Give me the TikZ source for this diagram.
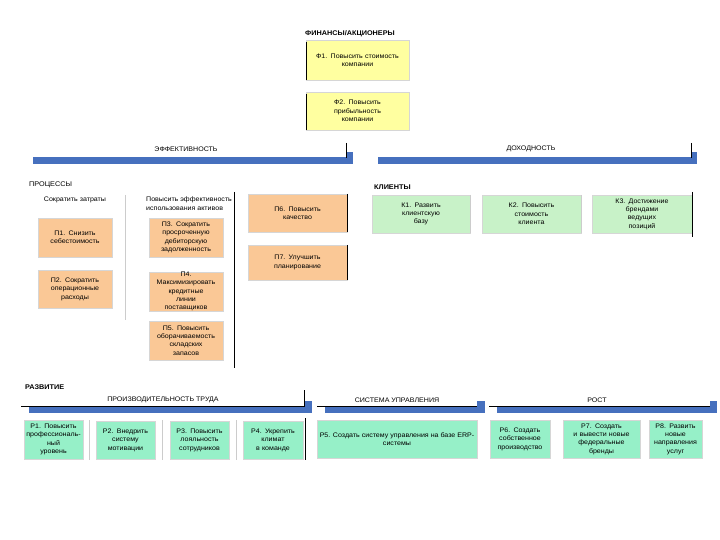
\documentclass[tikz,border=0pt]{standalone}
\usepackage{fontspec}
\setmainfont[FakeStretch=1.07]{Liberation Sans}
\definecolor{yel}{RGB}{255,255,160}
\definecolor{org}{RGB}{250,200,150}
\definecolor{kgr}{RGB}{200,242,200}
\definecolor{mnt}{RGB}{150,240,200}
\definecolor{barc}{RGB}{70,112,190}
\tikzset{
  txt/.style={font=\fontsize{6.6}{8.4}\selectfont, align=center, inner sep=0pt},
  hdr/.style={font=\fontsize{6.8}{8}\selectfont\bfseries, inner sep=0pt, anchor=west},
  bx/.style n args={3}{txt, draw=black!16, line width=0.4pt, minimum width=#1pt, minimum height=#2pt, text width=#3pt},
  fbox/.style={fill=yel},
  pbox/.style={fill=org},
  kbox/.style={fill=kgr},
  rbox/.style={fill=mnt},
  blk/.style={draw=black, line width=0.7pt},
  gry/.style={draw=black!20, line width=0.6pt},
}
\begin{document}
\begin{tikzpicture}[x=1pt,y=-1pt]
\useasboundingbox (0,0) rectangle (720,540);
\fill[white] (0,0) rectangle (720,540);

% ---- finance
\node[hdr] (hfin) at (305,34) {ФИНАНСЫ/АКЦИОНЕРЫ};
\node[bx={103}{40}{96}, fbox] (f1) at (357.5,60) {Ф1. Повысить стоимость\\компании};
\node[bx={103}{38}{96}, fbox] (f2) at (357.5,111) {Ф2. Повысить\\прибыльность\\компании};
\draw[blk] ([xshift=1pt,yshift=-2pt]f1.north west) -- ([xshift=1pt]f1.south west);
\draw[blk] ([xshift=1pt,yshift=-2pt]f2.north west) -- ([xshift=1pt]f2.south west);

% ---- top bars
\node[txt] (teff) at (186,149) {ЭФФЕКТИВНОСТЬ};
\fill[barc] (33,157) rectangle (347,164);
\fill[barc] (347,152) rectangle (353,164);
\draw[blk] (346,143) -- (346,158);
\node[txt] (tdoh) at (531,149) {ДОХОДНОСТЬ};
\fill[barc] (378,157) rectangle (691,164);
\fill[barc] (691,152) rectangle (697,164);
\draw[blk] (691,143) -- (691,158);

% ---- processes
\node[hdr, font=\fontsize{6.8}{8}\selectfont] (hproc) at (29,185) {ПРОЦЕССЫ};
\node[txt] (c1) at (75,200) {Сократить затраты};
\node[txt, align=left, anchor=north west] (c2) at (146,197) {Повысить эффективность\\использования активов};
\draw[gry] (125,195) -- (125,320);
\draw[blk] (234,192) -- (234,368);

\node[bx={74}{39}{70}, pbox] (p1) at (75,237.5) {П1. Снизить\\себестоимость};
\node[bx={74}{38}{70}, pbox] (p2) at (75,289) {П2. Сократить\\операционные\\расходы};
\node[bx={74}{39}{72}, pbox] (p3) at (186,237.5) {П3. Сократить\\просроченную\\дебиторскую\\задолженность};
\node[bx={74}{39}{72}, pbox] (p4) at (186,291.5) {П4.\\Максимизировать\\кредитные\\линии\\поставщиков};
\node[bx={74}{39}{72}, pbox] (p5) at (186,340.5) {П5. Повысить\\оборачиваемость\\складских\\запасов};
\node[bx={99}{38}{92}, pbox] (p6) at (297.5,213) {П6. Повысить\\качество};
\node[bx={99}{35}{92}, pbox] (p7) at (297.5,262.5) {П7. Улучшить\\планирование};
\draw[blk] (p6.north east) -- (p6.south east);
\draw[blk] (p7.north east) -- (p7.south east);

% ---- clients
\node[hdr] (hkl) at (374,187) {КЛИЕНТЫ};
\node[bx={98}{38}{92}, kbox] (k1) at (421,214) {К1. Развить\\клиентскую\\базу};
\node[bx={99}{38}{92}, kbox] (k2) at (531.5,214) {К2. Повысить\\стоимость\\клиента};
\node[bx={100}{38}{92}, kbox] (k3) at (642,214) {К3. Достижение\\брендами\\ведущих\\позиций};
\draw[gry] (k1.north east) -- (k1.south east);
\draw[gry] (k2.north east) -- (k2.south east);
\draw[blk] ([yshift=3pt]k3.north east) -- ([yshift=-4pt]k3.south east);

% ---- development
\node[hdr] (hraz) at (25,387) {РАЗВИТИЕ};
\node[txt] (tpr) at (163,400) {ПРОИЗВОДИТЕЛЬНОСТЬ ТРУДА};
\fill[barc] (29,406) rectangle (305,413);
\fill[barc] (305,401) rectangle (312,413);
\draw[draw=black, line width=0.5pt] (21,406) -- (305,406);
\draw[blk] (304,390) -- (304,406);

\node[txt] (tsu) at (397,400) {СИСТЕМА УПРАВЛЕНИЯ};
\fill[barc] (325,406) rectangle (485,413);
\fill[barc] (477,401) rectangle (485,413);
\draw[draw=black, line width=0.5pt] (317,406) -- (477,406);

\node[txt] (tro) at (597,400) {РОСТ};
\fill[barc] (497,406) rectangle (717,413);
\fill[barc] (710,401) rectangle (717,413);
\draw[draw=black, line width=0.5pt] (489,406) -- (710,406);

\node[bx={59}{39}{59}, rbox] (r1) at (53.5,439.5) {Р1. Повысить\\профессиональ-\\ный\\уровень};
\node[bx={59}{38}{58}, rbox] (r2) at (125.5,440) {Р2. Внедрить\\систему\\мотивации};
\node[bx={59}{38}{58}, rbox] (r3) at (199.5,440) {Р3. Повысить\\лояльность\\сотрудников};
\node[bx={60}{38}{58}, rbox] (r4) at (273,440) {Р4. Укрепить\\климат\\в команде};
\node[txt, draw=black!16, line width=0.4pt, minimum width=160pt, minimum height=38pt, rbox] (r5) at (397,439) {Р5. Создать систему управления на базе ERP-\\системы};
\node[bx={60}{38}{60}, rbox] (r6) at (520,439) {Р6. Создать\\собственное\\производство};
\node[bx={77}{38}{76}, rbox] (r7) at (601.5,439) {Р7. Создать\\и вывести новые\\федеральные\\бренды};
\node[bx={53}{38}{53}, rbox] (r8) at (675.5,439) {Р8. Развить\\новые\\направления\\услуг};
\draw[gry] (89,420) -- (89,460);
\draw[gry] (162,420) -- (162,460);
\draw[gry] (236,420) -- (236,460);
\draw[blk] (305,418) -- (305,460);
\end{tikzpicture}
\end{document}
